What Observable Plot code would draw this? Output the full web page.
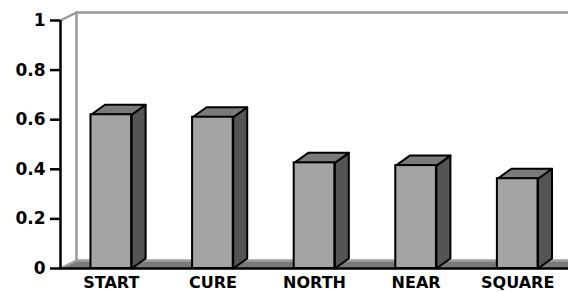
<!DOCTYPE html>
<html>
<head>
<meta charset="utf-8">
<script src="https://cdn.jsdelivr.net/npm/d3@7"></script>
<script src="https://cdn.jsdelivr.net/npm/@observablehq/plot@0.6"></script>
<style>
  html, body { margin: 0; padding: 0; background: #fff; }
  svg { display: block; }
</style>
</head>
<body>
<div id="chart"></div>
<script>
const categories = ["START", "CURE", "NORTH", "NEAR", "SQUARE"];
const values = [0.62, 0.61, 0.426, 0.415, 0.362];
const yTicks = [0, 0.2, 0.4, 0.6, 0.8, 1];
const yTickLabels = ["0", "0.2", "0.4", "0.6", "0.8", "1"];

const W = 568, H = 292;
const mL = 60, mR = 0, mT = 20, mB = 24;
const pxX = (W - mL - mR) / 5;      // px per x unit
const pxY = (H - mT - mB) / 1;      // px per y unit

// 3D depth offsets (converted from pixels to data units)
const barDX = 14 / pxX, barDY = 10 / pxY;
const wallDX = 16 / pxX, wallDY = 8 / pxY;
const half = 0.2;

const data = categories.map((c, i) => ({c, i, v: values[i]}));

const tops = data.flatMap(d => [
  [d.i - half, d.v], [d.i - half + barDX, d.v + barDY],
  [d.i + half + barDX, d.v + barDY], [d.i + half, d.v], [d.i - half, d.v]
].map(([x, y]) => ({x, y, z: d.c})));

const sides = data.flatMap(d => [
  [d.i + half, 0], [d.i + half, d.v], [d.i + half + barDX, d.v + barDY],
  [d.i + half + barDX, barDY], [d.i + half, 0]
].map(([x, y]) => ({x, y, z: d.c})));

const x0 = -0.5, x1 = 4.5;
const floor = [[x0, 0], [x0 + wallDX, wallDY], [x1 + 1, wallDY], [x1 + 1, 0], [x0, 0]]
  .map(([x, y]) => ({x, y}));
const wallLeft = [[x0, 1], [x0 + wallDX, 1 + wallDY], [x1 + 1, 1 + wallDY]].map(([x, y]) => ({x, y}));
const wallBack = [[x0 + wallDX, 1 + wallDY], [x0 + wallDX, wallDY]].map(([x, y]) => ({x, y}));
const floorEdge = [[x0, 0], [x0 + wallDX, wallDY], [x1 + 1, wallDY]].map(([x, y]) => ({x, y}));

const plot = Plot.plot({
  width: W, height: H,
  marginLeft: mL, marginRight: mR, marginTop: mT, marginBottom: mB,
  style: {background: "#fff", overflow: "visible"},
  x: {domain: [x0, x1], axis: null},
  y: {domain: [0, 1], axis: null},
  marks: [
    Plot.line(floor, {x: "x", y: "y", fill: "#7a7a7a", stroke: "none"}),
    Plot.line(floorEdge, {x: "x", y: "y", stroke: "#a0a0a0", strokeWidth: 2.5}),
    Plot.line(wallLeft, {x: "x", y: "y", stroke: "#999", strokeWidth: 2.5}),
    Plot.line(wallBack, {x: "x", y: "y", stroke: "#999", strokeWidth: 2.5}),
    Plot.line(sides, {x: "x", y: "y", z: "z", fill: "#545454", stroke: "#000", strokeWidth: 2, strokeLinejoin: "round", curve: "linear"}),
    Plot.line(tops, {x: "x", y: "y", z: "z", fill: "#7a7a7a", stroke: "#000", strokeWidth: 2, strokeLinejoin: "round", curve: "linear"}),
    Plot.rectY(data, {x1: d => d.i - half, x2: d => d.i + half, y1: 0, y2: "v", fill: "#a4a4a4", stroke: "#000", strokeWidth: 2, insetLeft: 0, insetRight: 0}),
    // axes
    Plot.ruleY([0], {x1: x0, x2: x1 + 1, stroke: "#000", strokeWidth: 2.5}),
    Plot.ruleX([x0], {y1: 0, y2: 1, stroke: "#000", strokeWidth: 2.5}),
    Plot.ruleY(yTicks, {x1: x0 - 10 / pxX, x2: x0, stroke: "#000", strokeWidth: 2.5}),
    Plot.text(yTicks, {x: x0, y: d => d, text: (d, i) => yTickLabels[i], dx: -15, textAnchor: "end",
      fontFamily: "DejaVu Sans", fontWeight: "bold", fontSize: 17, fill: "#000"}),
    Plot.text(data, {x: "i", y: 0, text: "c", dy: 14, fontFamily: "DejaVu Sans", fontWeight: "bold", fontSize: 16, fill: "#000"})
  ]
});
document.getElementById("chart").appendChild(plot);
</script>
</body>
</html>
